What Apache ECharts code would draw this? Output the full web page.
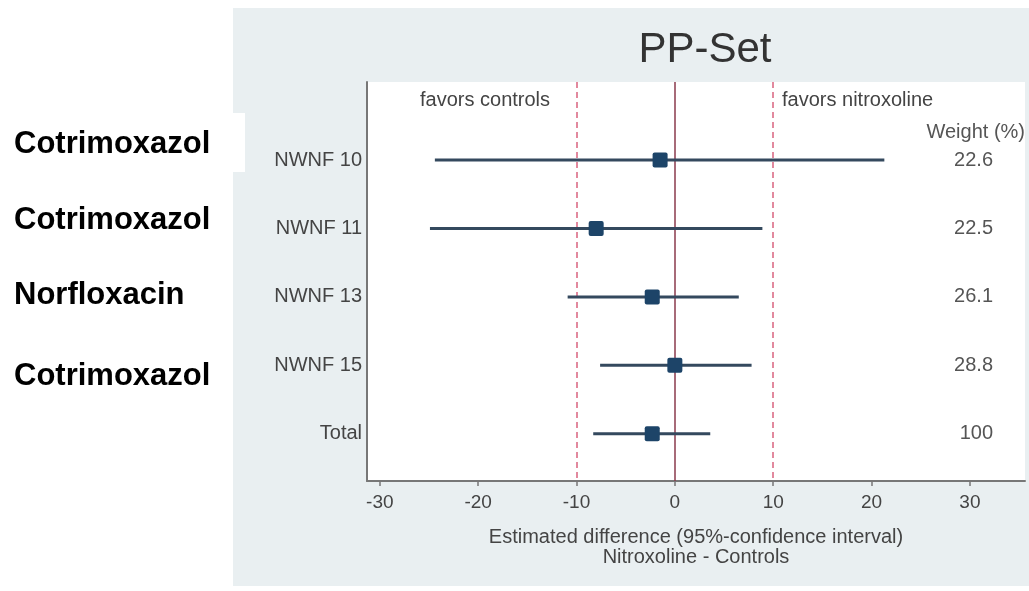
<!DOCTYPE html>
<html><head><meta charset="utf-8">
<script src="https://cdn.jsdelivr.net/npm/echarts@6/dist/echarts.min.js"></script>
<style>html,body{margin:0;padding:0;background:#fff}#c{width:1029px;height:591px}</style>
</head><body><div id="c"></div>
<script>
const studies = ['NWNF 10', 'NWNF 11', 'NWNF 13', 'NWNF 15', 'Total'];
const estimate = [-1.5, -8.0, -2.3, 0.0, -2.3];
const lower = [-24.4, -24.9, -10.9, -7.6, -8.3];
const upper = [21.3, 8.9, 6.5, 7.8, 3.6];
const weights = ['22.6', '22.5', '26.1', '28.8', '100'];
const comparators = ['Cotrimoxazol', 'Cotrimoxazol', 'Norfloxacin', 'Cotrimoxazol'];
const xTicks = [-30, -20, -10, 0, 10, 20, 30];
const refDashed = [-10, 10];
const refSolid = [0];
const rowValues = studies.map((s, i) => i + 1);

const FONT = '"Liberation Sans", Arial, sans-serif';
const chart = echarts.init(document.getElementById('c'), null, {renderer: 'canvas'});

const comparatorY = [144, 220, 295, 376];

const option = {
  backgroundColor: '#ffffff',
  animation: false,
  title: {
    text: 'PP-Set', left: 700, top: 24, textAlign: 'center',
    textStyle: {fontFamily: FONT, fontSize: 42, fontWeight: 'normal', color: '#333'}
  },
  graphic: [
    {type: 'rect', z: -10, shape: {x: 233, y: 8, width: 796, height: 578}, style: {fill: '#e9eff1'}},
    {type: 'rect', z: -9, shape: {x: 233, y: 113, width: 12, height: 59}, style: {fill: '#ffffff'}},
    ...comparators.map((t, i) => ({
      type: 'text', z: 10, x: 14, y: comparatorY[i],
      style: {text: t, font: 'bold 31px ' + FONT, fill: '#000', textVerticalAlign: 'middle'}
    })),
    {type: 'text', z: 10, x: 420, y: 100, style: {text: 'favors controls', font: '20px ' + FONT, fill: '#444', textVerticalAlign: 'middle'}},
    {type: 'text', z: 10, x: 782, y: 100, style: {text: 'favors nitroxoline', font: '20px ' + FONT, fill: '#444', textVerticalAlign: 'middle'}},
    {type: 'text', z: 10, x: 1025, y: 132, style: {text: 'Weight (%)', font: '20px ' + FONT, fill: '#555', textAlign: 'right', textVerticalAlign: 'middle'}}
  ],
  grid: {left: 367, right: 4, top: 82, bottom: 110, show: true, backgroundColor: '#ffffff', borderWidth: 0},
  xAxis: {
    type: 'value', min: -31.3, max: 35.6, position: 'bottom',
    name: 'Estimated difference (95%-confidence interval)\nNitroxoline - Controls',
    nameLocation: 'middle', nameGap: 46,
    nameTextStyle: {fontFamily: FONT, fontSize: 20, color: '#444', lineHeight: 20},
    axisLine: {show: true, onZero: false, lineStyle: {color: '#777', width: 2}},
    axisTick: {show: true, customValues: xTicks, length: 5, lineStyle: {color: '#777', width: 1.5}},
    axisLabel: {customValues: xTicks, fontFamily: FONT, fontSize: 19, color: '#444', margin: 12},
    splitLine: {show: false}
  },
  yAxis: [
    {
      type: 'value', inverse: true, min: -0.14, max: 5.69, position: 'left',
      axisLine: {show: true, onZero: false, lineStyle: {color: '#777', width: 2}},
      axisTick: {show: false},
      axisLabel: {customValues: rowValues, formatter: v => studies[v - 1], fontFamily: FONT, fontSize: 20, color: '#444', margin: 5},
      splitLine: {show: false}
    },
    {
      type: 'value', inverse: true, min: -0.14, max: 5.69, position: 'right',
      axisLine: {show: false}, axisTick: {show: false},
      axisLabel: {inside: true, customValues: rowValues, formatter: v => weights[v - 1], fontFamily: FONT, fontSize: 20, color: '#555', margin: 32},
      splitLine: {show: false}
    }
  ],
  series: [
    {
      type: 'line', data: [], silent: true,
      markLine: {
        silent: true, symbol: ['none', 'none'], label: {show: false},
        data: [
          ...refDashed.map(v => ({xAxis: v, lineStyle: {type: [6, 4], color: '#d9637f', width: 1.5}})),
          ...refSolid.map(v => ({xAxis: v, lineStyle: {type: 'solid', color: '#8a3a4c', width: 1.5}}))
        ]
      }
    },
    {
      type: 'custom', z: 5,
      data: studies.map((s, i) => [i + 1, lower[i], upper[i], estimate[i]]),
      encode: {y: 0, x: [1, 2, 3]},
      renderItem: function (params, api) {
        const y = api.value(0);
        const lo = api.coord([api.value(1), y]);
        const hi = api.coord([api.value(2), y]);
        const c = api.coord([api.value(3), y]);
        const s = 15;
        return {type: 'group', children: [
          {type: 'line', shape: {x1: lo[0], y1: lo[1], x2: hi[0], y2: hi[1]}, style: {stroke: '#34495e', lineWidth: 3}},
          {type: 'rect', shape: {x: c[0] - s / 2, y: c[1] - s / 2, width: s, height: s, r: 2}, style: {fill: '#1d4468'}}
        ]};
      }
    }
  ]
};
chart.setOption(option);
</script>
</body></html>
